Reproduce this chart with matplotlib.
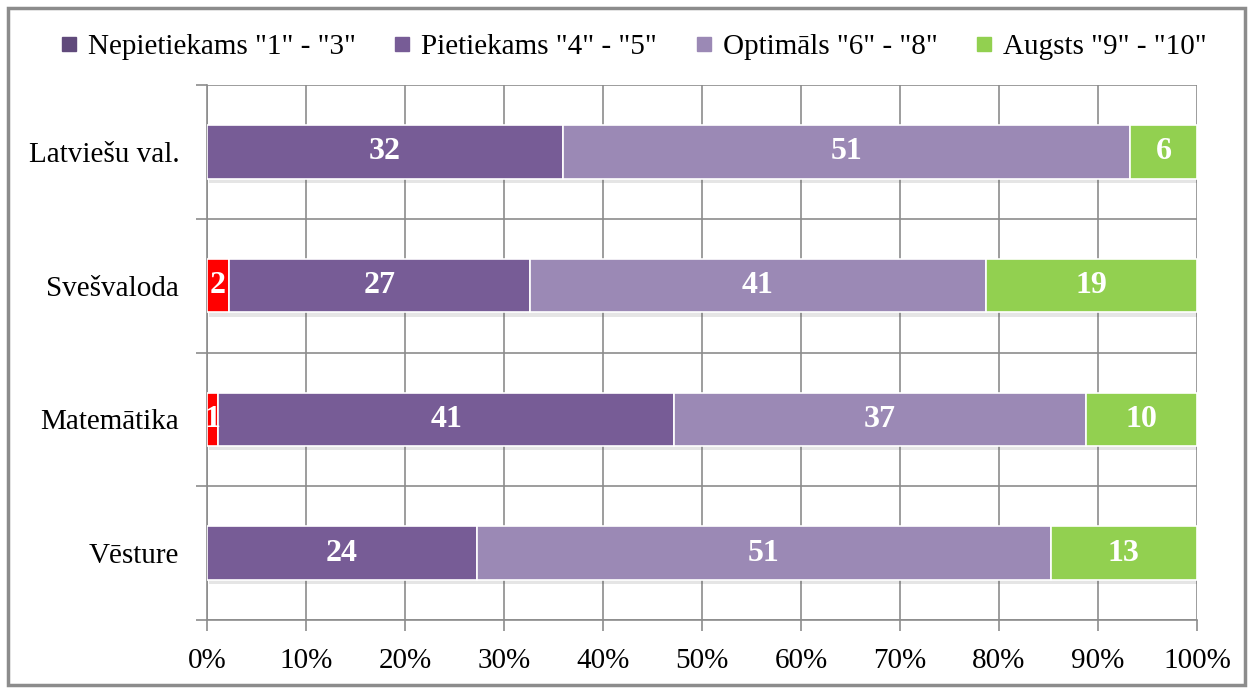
import matplotlib
matplotlib.use("Agg")
import matplotlib.pyplot as plt
from matplotlib.lines import Line2D
from matplotlib.patches import Rectangle
import matplotlib.patheffects as pe
import numpy as np

categories = ["Latviešu val.", "Svešvaloda", "Matemātika", "Vēsture"]
series_names = ['Nepietiekams "1" - "3"', 'Pietiekams "4" - "5"',
                'Optimāls "6" - "8"', 'Augsts "9" - "10"']
nepietiekams = [0, 2, 1, 0]
pietiekams = [32, 27, 41, 24]
optimals = [51, 41, 37, 51]
augsts = [6, 19, 10, 13]
x_ticks = [0, 10, 20, 30, 40, 50, 60, 70, 80, 90, 100]
x_ticklabels = [f"{t}%" for t in x_ticks]

bar_colors = ["#ff0000", "#775c96", "#9b89b5", "#92d050"]
legend_colors = ["#604a7b", "#775c96", "#9b89b5", "#92d050"]

plt.rcParams['font.family'] = ['Liberation Serif', 'DejaVu Serif']

fig = plt.figure(figsize=(12.49, 6.91), dpi=100)
ax = fig.add_axes([0.1657, 0.1027, 0.9584 - 0.1657, 0.877 - 0.1027])

data = np.array([nepietiekams, pietiekams, optimals, augsts], dtype=float)
totals = data.sum(axis=0)
pct = data / totals * 100

ypos = np.arange(len(categories))[::-1]  # top to bottom
left = np.zeros(len(categories))
shadow = [pe.SimplePatchShadow(offset=(1.5, -3), alpha=0.15, shadow_rgbFace='#555555'), pe.Normal()]
for i in range(4):
    bars = ax.barh(ypos, pct[i], left=left, height=0.4, color=bar_colors[i],
                   edgecolor='white', linewidth=1.2, zorder=3)
    for b in bars:
        b.set_path_effects(shadow)
    for j in range(len(categories)):
        v = data[i][j]
        if v > 0:
            ax.text(left[j] + pct[i][j] / 2, ypos[j], f"{int(v)}", ha='center', va='center',
                    color='white', fontsize=23, fontweight='bold', zorder=5)
    left += pct[i]

ax.set_xlim(0, 100)
ax.set_ylim(-0.5, 3.5)
ax.set_xticks(x_ticks)
ax.set_xticklabels(x_ticklabels, fontsize=21)
ax.set_yticks(ypos)
ax.set_yticklabels(categories, fontsize=21)
ax.set_yticks(np.arange(-0.5, 4, 1), minor=True)
ax.tick_params(axis='y', which='major', length=0, pad=20)
ax.tick_params(axis='y', which='minor', length=8, color='#8c8c8c', width=1.2)
ax.tick_params(axis='x', which='major', length=8, color='#8c8c8c', width=1.2, pad=12)
ax.grid(axis='x', which='major', color='#8c8c8c', linewidth=1.2, zorder=0)
ax.grid(axis='y', which='minor', color='#8c8c8c', linewidth=1.2, zorder=0)
for s in ['top', 'right']:
    ax.spines[s].set_visible(False)
for s in ['left', 'bottom']:
    ax.spines[s].set_color('#8c8c8c')
    ax.spines[s].set_linewidth(1.2)

handles = [Line2D([0], [0], marker='s', linestyle='none', markersize=10,
                  markerfacecolor=c, markeredgecolor=c) for c in legend_colors]
fig.legend(handles, series_names, loc='center', bbox_to_anchor=(0.507, 0.932), ncol=4,
           frameon=False, fontsize=21, handlelength=0.6, handletextpad=0.35,
           columnspacing=1.3)

fig.patches.append(Rectangle((8 / 1249, 6 / 691), (1245 - 8) / 1249, (683 - 6) / 691,
                             transform=fig.transFigure, fill=False, edgecolor='#8c8c8c',
                             linewidth=2.5))

fig.savefig("out.png", dpi=100)
